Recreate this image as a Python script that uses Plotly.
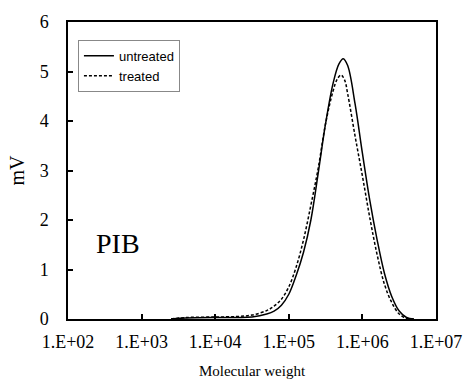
import plotly.graph_objects as go

# log10(molecular weight) sample points and detector response (mV)
untreated_logmw = [3.4, 3.6, 4.0, 4.3, 4.5, 4.7, 4.8, 4.9, 5.0, 5.1, 5.2, 5.3, 5.4,
                   5.5, 5.6, 5.68, 5.74, 5.8, 5.9, 6.0, 6.1, 6.2, 6.3, 6.4,
                   6.5, 6.6, 6.7]
untreated_mv = [0.0, 0.02, 0.03, 0.03, 0.04, 0.1, 0.16, 0.28, 0.5, 0.88, 1.35, 2.0, 2.95,
                3.95, 4.75, 5.15, 5.26, 5.12, 4.35, 3.35, 2.4, 1.6, 0.92, 0.45,
                0.16, 0.03, 0.0]

treated_logmw = [3.4, 3.6, 4.0, 4.3, 4.5, 4.7, 4.8, 4.9, 5.0, 5.1, 5.2, 5.3, 5.4, 5.5,
                 5.6, 5.66, 5.71, 5.76, 5.8, 5.9, 6.0, 6.1, 6.2, 6.3, 6.4, 6.5,
                 6.6, 6.7]
treated_mv = [0.0, 0.03, 0.04, 0.05, 0.08, 0.17, 0.26, 0.4, 0.65, 1.05, 1.6, 2.3, 3.05, 3.95,
              4.6, 4.85, 4.93, 4.82, 4.55, 3.7, 2.89, 2.05, 1.3, 0.7, 0.33, 0.1,
              0.01, 0.0]

x_tickvals = [1e2, 1e3, 1e4, 1e5, 1e6, 1e7]
x_ticktext = ["1.E+02", "1.E+03", "1.E+04", "1.E+05", "1.E+06", "1.E+07"]
y_tickvals = [0, 1, 2, 3, 4, 5, 6]

fig = go.Figure()
fig.add_trace(go.Scatter(
    x=[10 ** v for v in untreated_logmw], y=untreated_mv, mode="lines",
    name="untreated", line=dict(color="black", width=1.5, shape="spline", smoothing=1)))
fig.add_trace(go.Scatter(
    x=[10 ** v for v in treated_logmw], y=treated_mv, mode="lines",
    name="treated", line=dict(color="black", width=1.5, dash="3px,2px", shape="spline", smoothing=1)))

serif = "Liberation Serif, Times New Roman, serif"
fig.update_layout(
    width=474, height=389,
    margin=dict(l=68, r=31, t=15, b=69),
    paper_bgcolor="white", plot_bgcolor="white",
    font=dict(family=serif, size=18, color="black"),
    showlegend=True,
    legend=dict(x=0.027, y=0.94, xanchor="left", yanchor="top",
                bgcolor="white", bordercolor="#888", borderwidth=1,
                font=dict(family="Liberation Sans, Arial, sans-serif", size=13, color="black"),
                itemwidth=30, tracegroupgap=0),
    xaxis=dict(type="log", range=[2, 7], tickvals=x_tickvals, ticktext=x_ticktext,
               ticks="inside", ticklen=5, tickwidth=1.5, tickcolor="black",
               showline=True, linecolor="black", linewidth=1.5, mirror=True,
               showgrid=False, zeroline=False, ticklabelstandoff=6,
               tickfont=dict(family=serif, size=18),
               title=dict(text="Molecular weight", font=dict(family=serif, size=15), standoff=14)),
    yaxis=dict(range=[0, 6], tickvals=y_tickvals,
               ticks="inside", ticklen=5, tickwidth=1.5, tickcolor="black",
               showline=True, linecolor="black", linewidth=1.5, mirror=True,
               showgrid=False, zeroline=False, ticklabelstandoff=14,
               tickfont=dict(family=serif, size=18),
               title=dict(text="mV", font=dict(family=serif, size=20), standoff=10)),
    annotations=[dict(x=2.68, y=1.52, xref="x", yref="y", text="PIB", showarrow=False,
                      font=dict(family=serif, size=28, color="black"))],
)

fig.write_html("out.html")
